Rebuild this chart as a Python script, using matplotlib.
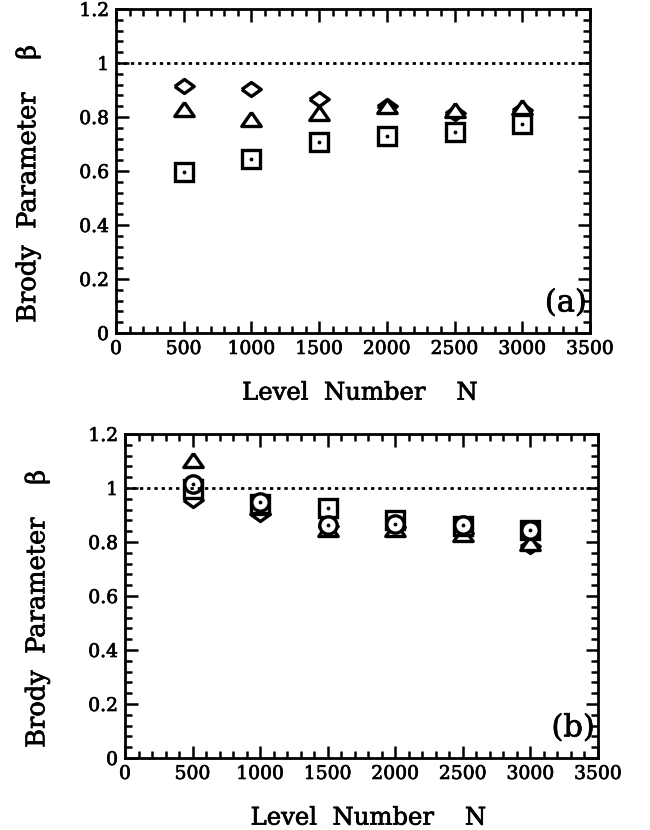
import matplotlib
matplotlib.use("Agg")
import matplotlib.pyplot as plt
import matplotlib.patheffects as pe
from matplotlib.ticker import MultipleLocator

plt.rcParams["font.family"] = ["DejaVu Serif"]

N = [500, 1000, 1500, 2000, 2500, 3000]

# panel (a)
a_diamond = [0.915, 0.904, 0.865, 0.84, 0.815, 0.825]
a_triangle = [0.831, 0.794, 0.813, 0.84, 0.825, 0.837]
a_square = [0.597, 0.645, 0.706, 0.728, 0.746, 0.774]

# panel (b)
b_triangle = [1.102, 0.93, 0.85, 0.85, 0.83, 0.795]
b_diamond = [0.957, 0.905, 0.858, 0.856, 0.835, 0.785]
b_circle = [1.016, 0.948, 0.862, 0.868, 0.862, 0.845]
b_square = [0.998, 0.942, 0.925, 0.88, 0.858, 0.845]

# flattened open markers like the printed figure
DIAMOND = [(-1, 0), (0, 0.72), (1, 0), (0, -0.72), (-1, 0)]
TRIANGLE = [(0, 0.72), (-1, -0.72), (1, -0.72), (0, 0.72)]
thick = [pe.withStroke(linewidth=0.5, foreground="black")]


def style_axes(ax, label):
    ax.set_xlim(0, 3500)
    ax.set_ylim(0, 1.2)
    ax.xaxis.set_major_locator(MultipleLocator(500))
    ax.xaxis.set_minor_locator(MultipleLocator(100))
    ax.yaxis.set_minor_locator(MultipleLocator(0.04))
    ax.set_yticks([0, 0.2, 0.4, 0.6, 0.8, 1.0, 1.2])
    ax.set_yticklabels(["0", "0.2", "0.4", "0.6", "0.8", "1", "1.2"])
    ax.tick_params(which="both", direction="in", top=True, right=True,
                   width=1.8, labelsize=13.5, pad=5)
    ax.tick_params(which="major", length=9)
    ax.tick_params(which="minor", length=5)
    for t in ax.get_xticklabels() + ax.get_yticklabels():
        t.set_path_effects(thick)
    for s in ax.spines.values():
        s.set_linewidth(2)
    ax.axhline(1.0, color="black", linestyle=(0, (1.2, 1.4)), linewidth=2)
    ax.set_ylabel("Brody  Parameter    β", fontsize=18.5, path_effects=thick)
    ax.yaxis.set_label_coords(-0.16, 0.46)
    ax.set_xlabel("Level  Number    N", fontsize=17.5, path_effects=thick)
    ax.xaxis.set_label_coords(0.515, -0.15)
    ax.text(0.993, 0.045, label, transform=ax.transAxes, ha="right",
            va="bottom", fontsize=22, path_effects=thick)


def open_marks(ax, y, marker, ms):
    ax.plot(N, y, linestyle="none", marker=marker, ms=ms, mfc="white",
            mec="black", mew=2.4)


def dots(ax, y):
    ax.plot(N, y, ".", ms=3.5, color="black")


fig = plt.figure(figsize=(6.5, 8.3), dpi=100)
ax1 = fig.add_axes([116 / 650, 1 - 333 / 830, 474 / 650, 324 / 830])
ax2 = fig.add_axes([125 / 650, 1 - 758 / 830, 473 / 650, 324 / 830])

open_marks(ax1, a_diamond, DIAMOND, 14)
open_marks(ax1, a_triangle, TRIANGLE, 14)
open_marks(ax1, a_square, "s", 12.5)
dots(ax1, a_square)
style_axes(ax1, "(a)")

open_marks(ax2, b_diamond, DIAMOND, 14)
open_marks(ax2, b_triangle, TRIANGLE, 14)
open_marks(ax2, b_square, "s", 12.5)
dots(ax2, b_square)
open_marks(ax2, b_circle, "o", 12.5)
dots(ax2, b_circle)
style_axes(ax2, "(b)")

fig.savefig("out.png", dpi=100)
